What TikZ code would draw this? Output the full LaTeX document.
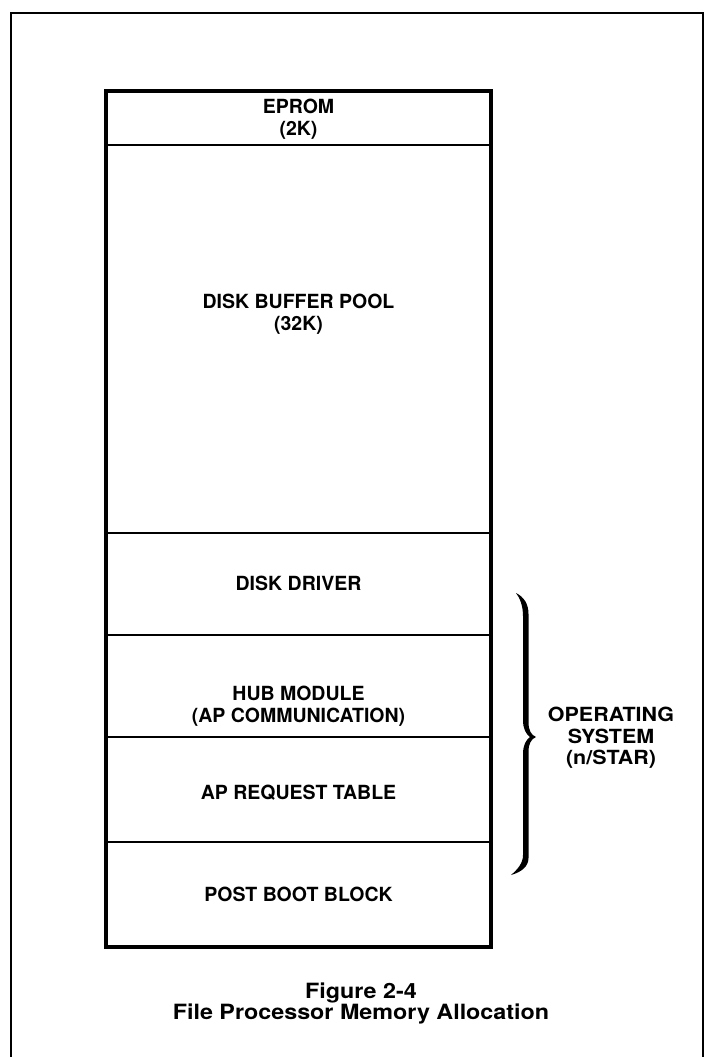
\documentclass[tikz,border=0pt]{standalone}
\usepackage{fontspec}
\setmainfont{TeX Gyre Heros}
\begin{document}
\begin{tikzpicture}[x=1pt,y=-1pt,
  lbl/.style={font=\fontsize{19.5}{21.5}\selectfont\bfseries, align=center, inner sep=0pt},
  wide/.style={transform shape, xscale=1.1},
  captext/.style={font=\fontsize{21}{20.5}\selectfont\bfseries, align=center, inner sep=0pt, transform shape, xscale=1.11},
  frameline/.style={line width=2pt},
  membox/.style={line width=4.5pt},
  divider/.style={line width=2pt}]
\useasboundingbox (0,0) rectangle (704,1057);
% outer frame
\draw[frameline] (11,1057) -- (11,13) -- (703,13) -- (703,1057);
% memory box
\draw[divider] (106,145) -- (491,145);
\draw[divider] (106,533) -- (491,533);
\draw[divider] (106,635) -- (491,635);
\draw[divider] (106,737) -- (491,737);
\draw[divider] (106,842) -- (491,842);
\draw[membox] (106,91) rectangle (491,947);
% labels
\node[lbl] (eprom) at (298.5,119) {EPROM\\(2K)};
\node[lbl] (pool) at (298.5,314) {DISK BUFFER POOL\\(32K)};
\node[lbl] (driver) at (298.5,583) {DISK DRIVER};
\node[lbl] (hub) at (298.5,706) {HUB MODULE\\(AP COMMUNICATION)};
\node[lbl] (apreq) at (298.5,793) {AP REQUEST TABLE};
\node[lbl] (post) at (298.5,894) {POST BOOT BLOCK};
% brace
\fill (516,593) .. controls (524,597) and (528.5,604) .. (528.5,614) -- (528.5,722)
  .. controls (528.5,730) and (531,735) .. (536,737)
  .. controls (531,739) and (528.5,744) .. (528.5,752) -- (528.5,858)
  .. controls (528.5,866) and (522,872) .. (511,875)
  .. controls (518,869) and (523,863) .. (523,855) -- (523,754)
  .. controls (523,745) and (526,740) .. (530,737)
  .. controls (526,734) and (523,729) .. (523,720) -- (523,616)
  .. controls (523,606) and (520,598) .. (516,593) -- cycle;
\node[lbl, wide] (os) at (611,738) {OPERATING\\SYSTEM\\(n/STAR)};
% caption
\node[captext] (caption) at (361,1003.5) {Figure 2-4\\File Processor Memory Allocation};
\end{tikzpicture}
\end{document}
